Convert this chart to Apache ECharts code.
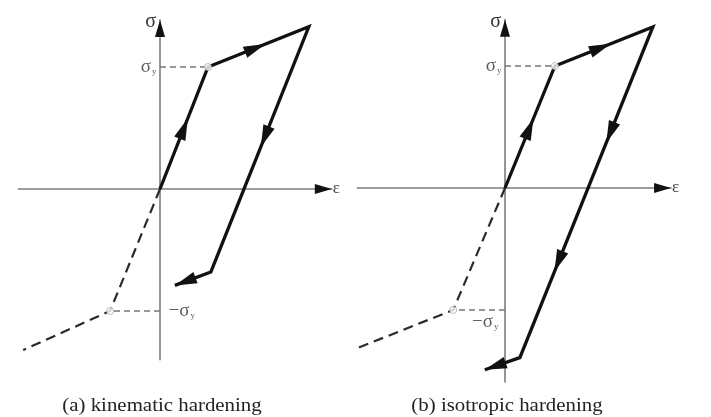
<!DOCTYPE html>
<html>
<head>
<meta charset="utf-8">
<script src="https://cdn.jsdelivr.net/npm/echarts@6/dist/echarts.min.js"></script>
<style>
  html, body { margin: 0; padding: 0; background: #fff; }
  #chart { width: 711px; height: 417px; }
</style>
</head>
<body>
<div id="chart"></div>
<script>
// Strain in units of the yield strain, stress in units of the yield stress σy.
const kinematicPath = [[0, 0], [1, 1], [3.1, 1.33], [1.06, -0.68], [0.31, -0.79]];
const kinematicCompression = [[0, 0], [-1.04, -1], [-2.85, -1.32]];
const kinematicYield = [[1, 1], [-1.04, -1]];

const isotropicPath = [[0, 0], [1.04, 1], [3.08, 1.32], [0.31, -1.39], [-0.42, -1.49]];
const isotropicCompression = [[0, 0], [-1.08, -1], [-3.06, -1.31]];
const isotropicYield = [[1.04, 1], [-1.08, -1]];

// Direction arrows: [segment index, fraction of the segment where the tip sits]
const kinematicArrows = [[0, 0.58], [1, 0.57], [2, 0.49], [3, 1]];
const isotropicArrows = [[0, 0.57], [1, 0.57], [2, 0.35], [2, 0.74], [3, 1]];

const captions = ['(a) kinematic hardening', '(b) isotropic hardening'];
const stressName = 'σ';
const strainName = 'ε';

// ---- layout ----
const PX_X = 48;   // pixels per unit strain
const PX_Y = 122;  // pixels per unit stress
const SERIF = '"Liberation Serif", "DejaVu Serif", serif';

const panels = [
  { origin: [160, 189], x: [-2.95, 3.58], y: [-1.40, 1.385],
    path: kinematicPath, comp: kinematicCompression, yieldPts: kinematicYield,
    arrows: kinematicArrows, caption: captions[0], negLabelSide: 'right' },
  { origin: [505, 188], x: [-3.08, 3.46], y: [-1.59, 1.38],
    path: isotropicPath, comp: isotropicCompression, yieldPts: isotropicYield,
    arrows: isotropicArrows, caption: captions[1], negLabelSide: 'left' }
];

// Filled arrowhead whose tip sits at (v2, v3), pointing away from (v0, v1).
function arrowHead(len, width, color) {
  return function (params, api) {
    const a = api.coord([api.value(0), api.value(1)]);
    const b = api.coord([api.value(2), api.value(3)]);
    let dx = b[0] - a[0], dy = b[1] - a[1];
    const d = Math.hypot(dx, dy) || 1;
    dx /= d; dy /= d;
    const bx = b[0] - dx * len, by = b[1] - dy * len;
    const w = width / 2;
    return {
      type: 'polygon',
      shape: { points: [[b[0], b[1]], [bx - dy * w, by + dx * w], [bx + dy * w, by - dx * w]] },
      style: { fill: color }
    };
  };
}

function pathArrows(path, arrows) {
  return arrows.map(([i, t]) => {
    const p = path[i], q = path[i + 1];
    return [p[0], p[1], p[0] + (q[0] - p[0]) * t, p[1] + (q[1] - p[1]) * t];
  });
}

const sigmaRich = {
  g: { fontFamily: SERIF, fontSize: 19, color: '#333' },
  s: { fontFamily: SERIF, fontSize: 9, color: '#333', padding: [10, 0, 0, 1] }
};

const grid = [], xAxis = [], yAxis = [], series = [], graphic = [];

panels.forEach((p, k) => {
  grid.push({
    left: p.origin[0] + p.x[0] * PX_X,
    top: p.origin[1] - p.y[1] * PX_Y,
    width: (p.x[1] - p.x[0]) * PX_X,
    height: (p.y[1] - p.y[0]) * PX_Y
  });
  const axisLine = { onZero: true, lineStyle: { color: '#7d7d7d', width: 1.6 } };
  xAxis.push({
    type: 'value', gridIndex: k, min: p.x[0], max: p.x[1],
    axisLine, axisTick: { show: false }, axisLabel: { show: false }, splitLine: { show: false },
    name: strainName, nameLocation: 'end', nameGap: 1,
    nameTextStyle: { fontFamily: SERIF, fontSize: 17, color: '#444', padding: [18, 0, 0, 0] }
  });
  yAxis.push({
    type: 'value', gridIndex: k, min: p.y[0], max: p.y[1],
    axisLine, axisTick: { show: false }, axisLabel: { show: false }, splitLine: { show: false },
    name: stressName, nameLocation: 'end', nameGap: -2,
    nameTextStyle: { fontFamily: SERIF, fontSize: 20, color: '#333',
                     align: 'right', verticalAlign: 'middle', padding: [0, 4, 0, 0] }
  });

  const common = { xAxisIndex: k, yAxisIndex: k, silent: true };

  // axis arrowheads
  series.push({
    ...common, type: 'custom', z: 4,
    renderItem: arrowHead(17, 10, '#111'),
    encode: { x: [0, 2], y: [1, 3] },
    data: [[0, 0, p.x[1], 0], [0, 0, 0, p.y[1]]]
  });

  // guide lines from yield points to the stress axis
  p.yieldPts.forEach(pt => {
    series.push({
      ...common, type: 'line', symbol: 'none', clip: false, z: 2,
      lineStyle: { color: '#777', width: 1.6, type: [6, 4] },
      data: [[0, pt[1]], pt]
    });
  });

  // monotonic compression branch
  series.push({
    ...common, type: 'line', symbol: 'none', clip: false, z: 3,
    lineStyle: { color: '#2a2a2a', width: 2.2, type: [10, 6], join: 'miter' },
    data: p.comp
  });

  // loading / unloading path
  series.push({
    ...common, type: 'line', symbol: 'none', clip: false, z: 3,
    lineStyle: { color: '#111', width: 3.3, join: 'miter' },
    data: p.path
  });

  // direction arrows on the path
  series.push({
    ...common, type: 'custom', z: 5,
    renderItem: arrowHead(22, 12, '#111'),
    encode: { x: [0, 2], y: [1, 3] },
    data: pathArrows(p.path, p.arrows)
  });

  // yield points
  series.push({
    ...common, type: 'scatter', z: 6, symbol: 'circle', symbolSize: 7,
    itemStyle: { color: '#fff', borderColor: '#aaa', borderWidth: 1 },
    data: p.yieldPts
  });

  // σy and −σy labels on the stress axis
  series.push({
    ...common, type: 'scatter', z: 6, symbolSize: 1,
    itemStyle: { color: 'rgba(0,0,0,0)' },
    data: [
      { value: [0, 1], label: { show: true, position: 'left', distance: 3,
          formatter: '{g|σ}{s|y}', rich: sigmaRich } },
      { value: [0, -1], label: { show: true, position: p.negLabelSide,
          distance: p.negLabelSide === 'right' ? 8 : 6,
          offset: p.negLabelSide === 'right' ? [0, 0] : [0, 12],
          formatter: '{g|−σ}{s|y}', rich: sigmaRich } }
    ]
  });

  graphic.push({
    type: 'text', x: p.origin[0] + 2, y: 406, scaleX: 1.16, silent: true,
    style: { text: p.caption, x: 0, y: 0, align: 'center', verticalAlign: 'middle',
             font: '18px ' + SERIF, fill: '#222' }
  });
});

const chart = echarts.init(document.getElementById('chart'), null, { renderer: 'canvas' });
chart.setOption({
  animation: false,
  backgroundColor: '#fff',
  grid, xAxis, yAxis, series, graphic
});
</script>
</body>
</html>
